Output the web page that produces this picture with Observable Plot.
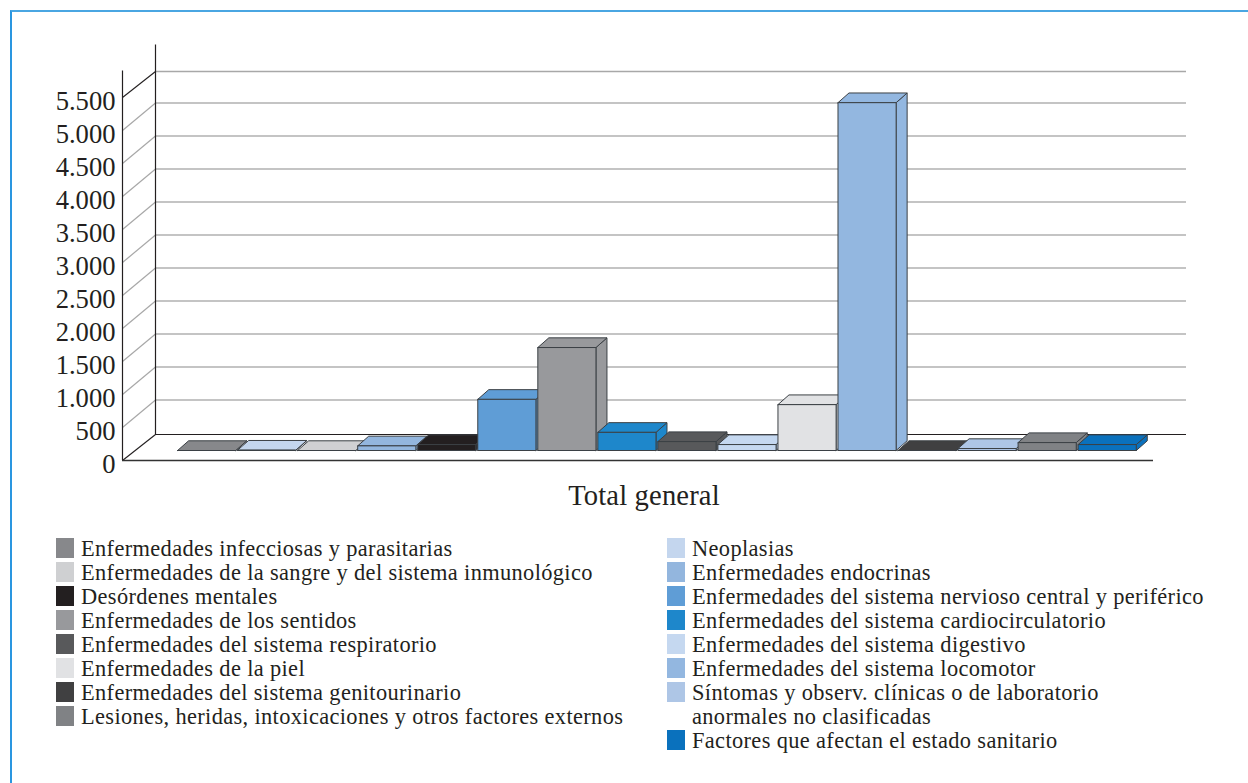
<!DOCTYPE html>
<html lang="es"><head><meta charset="utf-8">
<script src="https://cdn.jsdelivr.net/npm/d3@7"></script>
<script src="https://cdn.jsdelivr.net/npm/@observablehq/plot@0.6"></script>
<style>
html,body{margin:0;padding:0;background:#fff;width:1248px;height:783px;overflow:hidden}
#frame{position:absolute;left:9.5px;top:10px;right:-5px;bottom:-5px;border-left:2px solid #2a96e0;border-top:2px solid #4aa6e2}
#chart{position:absolute;left:0;top:0}
#chart svg{background:transparent;display:block}
.col{position:absolute;top:536.5px;font:22.4px/24px "Liberation Serif",serif;letter-spacing:.36px;color:#231f20}
.row{position:relative;white-space:pre-line;padding-left:25px}
.sw{position:absolute;left:0;top:1.5px;width:18px;height:20px}
#cap{position:absolute;left:444px;width:400px;top:480.5px;text-align:center;font:28.6px/30px "Liberation Serif",serif;letter-spacing:.15px;color:#231f20}
</style></head><body>
<div id="frame"></div><div id="chart"></div><div id="cap">Total general</div>
<div class="col" id="l1" style="left:56px"></div><div class="col" id="l2" style="left:667px"></div>
<script>
const categories = ["Enfermedades infecciosas y parasitarias","Neoplasias","Enfermedades de la sangre y del sistema inmunológico","Enfermedades endocrinas","Desórdenes mentales","Enfermedades del sistema nervioso central y periférico","Enfermedades de los sentidos","Enfermedades del sistema cardiocirculatorio","Enfermedades del sistema respiratorio","Enfermedades del sistema digestivo","Enfermedades de la piel","Enfermedades del sistema locomotor","Enfermedades del sistema genitourinario","Síntomas y observ. clínicas o de laboratorio\nanormales no clasificadas","Lesiones, heridas, intoxicaciones y otros factores externos","Factores que afectan el estado sanitario"];
const values = [0,5,0,70,90,775,1560,275,135,90,695,5270,0,30,120,90];
const colors = ["#87888b","#c4d6ee","#cfd0d2","#93b6de","#231f20","#5f9dd6","#98999c","#1e87cb","#58595b","#c5d8f0","#e1e2e4","#93b7e0","#404041","#aec6e6","#808285","#0a71bd"];
const yTicks = [0,500,1000,1500,2000,2500,3000,3500,4000,4500,5000,5500];

const slotPx = 59.94, unitPx = 0.066;
const xFrontWall = -56/slotPx, xBackWall = -23/slotPx, xEnd = 1008/slotPx, xFrontEnd = 975/slotPx;
const floorFront = -10/unitPx, floorBack = 16/unitPx, wallTop = 5900, gridShift = 1.5/unitPx;
const depthX = 11/slotPx, depthY = 9.7/unitPx, gap = 0.015, barShift = -0.03, slotStretch = 1.0016;

const polys = [];
values.forEach((v,i)=>{
  const a=i*slotStretch+gap+barShift,b=a+1-2*gap,c=colors[i];
  const add=(k,pts)=>pts.concat([pts[0]]).forEach(p=>polys.push({z:i+k,c,x:p[0],y:p[1]}));
  add(.1,[[b,0],[b+depthX,depthY],[b+depthX,v+depthY],[b,v]]);
  add(.2,[[a,v],[a+depthX,v+depthY],[b+depthX,v+depthY],[b,v]]);
  add(.3,[[a,0],[b,0],[b,v],[a,v]]);
});
const grid = yTicks.filter(t=>t>0&&t<5500), edge=[0,5500];
const fmt = d=>d3.format(",")(d).replace(",",".");

const plot = Plot.plot({
  width:1248,height:520,marginLeft:122,marginRight:62,marginTop:0,marginBottom:0,
  x:{type:"linear",domain:[xFrontWall,xEnd],range:[122,1186],axis:null},
  y:{type:"linear",domain:[0,5500],range:[450,87],axis:null},
  style:{background:"transparent",overflow:"visible"},
  marks:[
    Plot.ruleY(grid,{y:d=>d+floorBack+gridShift,x1:xBackWall,x2:xEnd,stroke:"#b0b0b0",strokeWidth:1.5}),
    Plot.link(grid,{x1:xFrontWall,x2:xBackWall,y1:d=>d+floorFront,y2:d=>d+floorBack+gridShift,stroke:"#a8a8a8",strokeWidth:1.2}),
    Plot.ruleY([5500],{y:d=>d+floorBack,x1:xBackWall,x2:xEnd,stroke:"#a8a8a8",strokeWidth:1.5}),
    Plot.ruleY([0],{y:d=>d+floorBack,x1:xBackWall,x2:xEnd,stroke:"#231f20",strokeWidth:1.2}),
    Plot.link(edge,{x1:xFrontWall,x2:xBackWall,y1:d=>d+floorFront,y2:d=>d+floorBack,stroke:"#231f20",strokeWidth:1.1}),
    Plot.ruleX([xFrontWall],{y1:floorFront,y2:wallTop+floorFront,stroke:"#231f20",strokeWidth:1.2}),
    Plot.ruleX([xBackWall],{y1:floorBack,y2:wallTop+floorBack,stroke:"#231f20",strokeWidth:1.2}),
    Plot.ruleY([0],{y:floorFront,x1:xFrontWall,x2:xFrontEnd,stroke:"#333",strokeWidth:1.4}),
    Plot.line(polys,{x:"x",y:"y",z:"z",fill:"c",stroke:"#3b4045",strokeWidth:1,curve:"linear"}),
    Plot.text(yTicks,{x:xFrontWall,y:d=>d+floorFront,text:fmt,textAnchor:"end",dx:-7,dy:3.5,fontSize:26.6,fontFamily:"Liberation Serif",fill:"#231f20"})
  ]
});
document.getElementById("chart").append(plot);

const left=[0,2,4,6,8,10,12,14], right=[1,3,5,7,9,11,13,15];
function legend(id,idx){const el=document.getElementById(id);
  idx.forEach(i=>{const r=document.createElement("div");r.className="row";r.textContent=categories[i];
    const s=document.createElement("span");s.className="sw";s.style.background=colors[i];r.prepend(s);el.append(r);});}
legend("l1",left);legend("l2",right);
</script></body></html>
